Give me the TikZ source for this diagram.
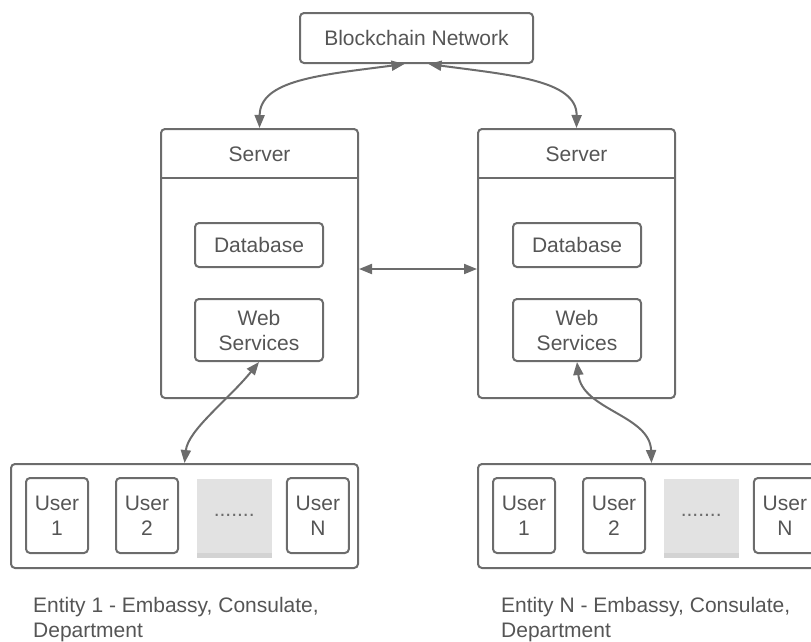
\documentclass[tikz,border=0pt]{standalone}
\usepackage{fontspec}
\setmainfont{Liberation Sans}
\usetikzlibrary{positioning, arrows.meta, shadows}

\definecolor{linegray}{HTML}{6C6C6C}
\definecolor{textgray}{HTML}{555555}
\definecolor{dotfill}{HTML}{E2E2E2}

\begin{document}
\begin{tikzpicture}[x=1pt, y=-1pt, >={Triangle[length=13pt, width=10pt]},
    every node/.style={text=textgray, font=\fontsize{21}{25}\selectfont, align=center},
    box/.style={draw=linegray, line width=2pt, rounded corners=4pt, inner sep=0pt},
    userbox/.style={box, minimum width=62pt, minimum height=75pt},
    dotbox/.style={fill=dotfill, minimum width=75pt, minimum height=74pt, inner sep=0pt,
        drop shadow={shadow xshift=0pt, shadow yshift=-5pt, opacity=.35, fill=gray}},
    conn/.style={draw=linegray, line width=2pt, <->}]

    \useasboundingbox (0,0) rectangle (811,641);
    \clip (0,0) rectangle (811,641);

    % Top node
    \node (chain) [box, minimum width=233pt, minimum height=50pt] at (416.5,38) {Blockchain Network};

    % Servers
    \node (srvL) [box, minimum width=197pt, minimum height=269pt] at (259.5,263.5) {};
    \node (srvR) [box, minimum width=197pt, minimum height=269pt] at (576.5,263.5) {};
    \node (srvLtitle) at (259.5,154) {Server};
    \node (srvRtitle) at (576.5,154) {Server};
    \draw[draw=linegray, line width=2pt] ([yshift=-50pt]srvL.north west) -- ([yshift=-50pt]srvL.north east);
    \draw[draw=linegray, line width=2pt] ([yshift=-50pt]srvR.north west) -- ([yshift=-50pt]srvR.north east);

    % Inside the servers
    \node (dbL) [box, minimum width=128pt, minimum height=44pt] at (259,245) {Database};
    \node (webL) [box, minimum width=128pt, minimum height=62pt] at (259,330) {Web\\Services};
    \node (dbR) [box, minimum width=128pt, minimum height=44pt] at (577,245) {Database};
    \node (webR) [box, minimum width=128pt, minimum height=62pt] at (577,330) {Web\\Services};

    % Left entity
    \node (entL) [box, minimum width=347pt, minimum height=104pt] at (184.5,516) {};
    \node (uL1) [userbox] at (57,515.5) {User\\1};
    \node (uL2) [userbox, right=26pt of uL1] {User\\2};
    \node (dotsL) [dotbox, right=17.5pt of uL2] {\textcolor{linegray}{.......}};
    \node (uLN) [userbox, right=14pt of dotsL] {User\\N};
    \node (entLtext) [anchor=north west, align=left, inner sep=0pt] at (33,597) {Entity 1 - Embassy, Consulate,\\Department};

    % Right entity
    \node (entR) [box, minimum width=347pt, minimum height=104pt] at (651.5,516) {};
    \node (uR1) [userbox] at (524,515.5) {User\\1};
    \node (uR2) [userbox, right=26pt of uR1] {User\\2};
    \node (dotsR) [dotbox, right=17.5pt of uR2] {\textcolor{linegray}{.......}};
    \node (uRN) [userbox, right=14pt of dotsR] {User\\N};
    \node (entRtext) [anchor=north west, align=left, inner sep=0pt] at (501,597) {Entity N - Embassy, Consulate,\\Department};

    % Connectors
    \draw[conn] ([xshift=-12pt]chain.south) .. controls (320,75) and (260,80) .. (srvL.north);
    \draw[conn] ([xshift=12pt]chain.south) .. controls (510,75) and (577,80) .. (srvR.north);
    \draw[conn] ([yshift=-5.5pt]srvL.east) -- ([yshift=-5.5pt]srvR.west);
    \draw[conn] (webL.south) .. controls (228,400) and (188,430) .. (entL.north);
    \draw[conn] (webR.south) .. controls (582,410) and (650,415) .. (entR.north);

\end{tikzpicture}
\end{document}
